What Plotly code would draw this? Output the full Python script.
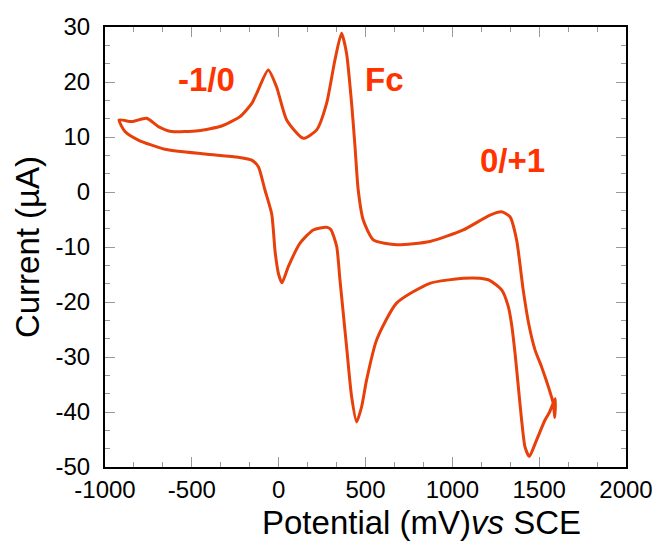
import plotly.graph_objects as go

# Cyclic voltammogram: upper branch (left vertex -> right vertex), then lower branch back
potential_mv = [
    -919, -846, -760, -693, -616, -463, -328, -223, -155, -127, -60, -12, 46, 142, 219, 276,
    324, 362, 391, 420, 439, 458, 487, 545, 681, 871, 1063, 1217, 1284, 1332, 1370, 1408,
    1440, 1476, 1514, 1553, 1581, 1590,
    1592, 1560, 1533, 1485, 1443, 1418, 1399, 1380, 1361, 1341, 1322, 1284, 1217, 1159, 1063,
    871, 679, 564, 506, 478, 449, 420, 391, 353, 334, 300, 276, 199, 123, 55, 19, 0, -20, -40,
    -79, -117, -155, -232, -424, -655, -808, -885, -919,
]
current_ua = [
    13.1, 12.8, 13.4, 11.9, 11.0, 11.15, 12.0, 13.7, 16.1, 17.9, 22.2, 19.1, 13.1, 9.76, 11.3, 16.1,
    24.0, 28.85, 25.2, 16.1, 8.5, 0.36, -5.1, -8.7, -9.6, -9.0, -6.9, -4.2, -3.6, -4.5, -8.7, -17.8,
    -24.0, -28.7, -31.8, -35.4, -38.4, -41.0,
    -37.6, -40.0, -41.5, -45.1, -48.1, -46.3, -41.5, -35.4, -29.3, -24.0, -20.8, -17.8, -16.1, -15.7, -15.7,
    -16.6, -20.2, -26.9, -34.2, -39.0, -41.8, -37.2, -28.1, -16.0, -9.9, -6.8, -6.4, -6.9, -9.3, -13.6, -16.5, -15.0, -11.0, -4.0,
    0.36, 4.6, 5.8, 6.3, 6.9, 7.76, 9.45, 11.0, 13.1,
]

x_tick_vals = [-1000, -500, 0, 500, 1000, 1500, 2000]
x_tick_text = ["-1000", "-500", "0", "500", "1000", "1500", "2000"]
y_tick_vals = [-50, -40, -30, -20, -10, 0, 10, 20, 30]
y_tick_text = ["-50", "-40", "-30", "-20", "-10", "0", "10", "20", "30"]

labels = ["-1/0", "Fc", "0/+1"]
label_x = [-413, 612, 1349]
label_y = [20.4, 20.4, 5.8]

x_title = "Potential (mV)<i>vs</i> SCE"
y_title = "Current (µA)"

line_color = "#E8400A"
text_color = "#FF3300"
font_family = "Liberation Sans, Arial, sans-serif"

fig = go.Figure()
fig.add_trace(go.Scatter(
    x=potential_mv, y=current_ua, mode="lines",
    line=dict(color=line_color, width=3, shape="spline", smoothing=0.6),
    showlegend=False, hoverinfo="skip",
))

for t, xx, yy in zip(labels, label_x, label_y):
    fig.add_annotation(x=xx, y=yy, text=f"<b>{t}</b>", showarrow=False,
                       xanchor="center", yanchor="middle",
                       font=dict(family=font_family, size=33, color=text_color))

# x-axis title (placed off-centre like the reference)
fig.add_annotation(xref="paper", yref="paper", x=0.607, y=-0.125, text=x_title,
                   showarrow=False, xanchor="center", yanchor="middle",
                   font=dict(family=font_family, size=33, color="black"))

axis_common = dict(
    showline=True, linecolor="black", linewidth=2, mirror="allticks",
    ticks="inside", ticklen=10, tickwidth=1, tickcolor="#999999",
    showgrid=False, zeroline=False, automargin=False,
    tickfont=dict(family=font_family, size=24, color="black"),
)

fig.update_xaxes(
    range=[-1000, 2000], tickmode="array", tickvals=x_tick_vals, ticktext=x_tick_text,
    minor=dict(dtick=500 / 3, tick0=0, ticks="inside", ticklen=5, tickcolor="#999999", tickwidth=1, showgrid=False),
    ticklabelstandoff=0,
    **axis_common,
)
fig.update_yaxes(
    range=[-50, 30], tickmode="array", tickvals=y_tick_vals, ticktext=y_tick_text,
    minor=dict(dtick=10 / 3, tick0=0, ticks="inside", ticklen=5, tickcolor="#999999", tickwidth=1, showgrid=False),
    title=dict(text=y_title, font=dict(family=font_family, size=33, color="black"), standoff=6),
    ticklabelstandoff=8,
    **axis_common,
)

fig.update_layout(
    width=657, height=544,
    margin=dict(l=105, r=31, t=27, b=77),
    plot_bgcolor="white", paper_bgcolor="white",
)

fig.write_html("out.html", config={"displayModeBar": False},
               post_script="document.body.style.margin='0';document.body.style.overflow='hidden';")
